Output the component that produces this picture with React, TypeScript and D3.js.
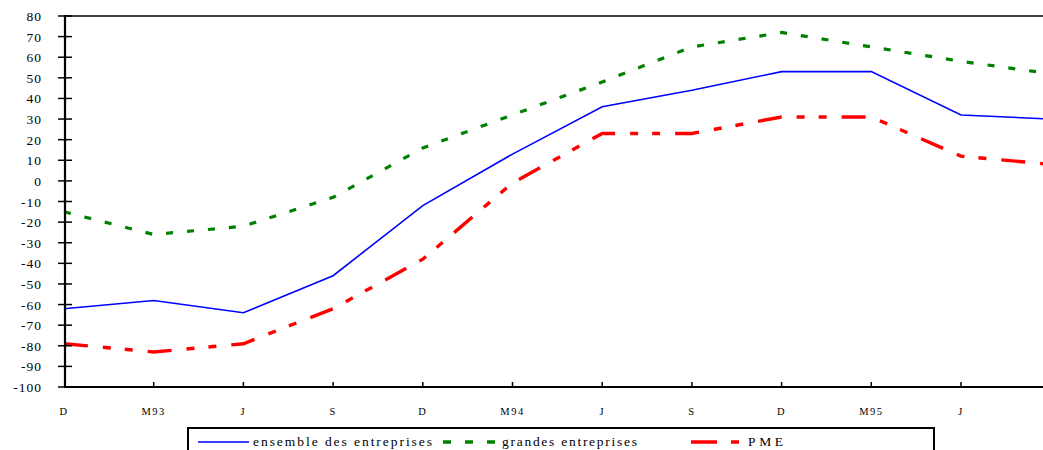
import React from "react";
import * as d3 from "d3";

const categories = ["D", "M93", "J", "S", "D", "M94", "J", "S", "D", "M95", "J", ""];
const ensemble = [-62, -58, -64, -46, -12, 13, 36, 44, 53, 53, 32, 30];
const grandes = [-15, -26, -22, -8, 16, 32, 48, 65, 72, 65, 58, 52];
const pme = [-79, -83, -79, -62, -38, -1, 23, 23, 31, 31, 12, 8];
const yTicks = d3.range(-100, 81, 10);
const legendLabels = ["ensemble des entreprises", "grandes entreprises", "PME"];

const W = 1043;
const H = 450;
const FONT = '"Liberation Serif", "Times New Roman", "DejaVu Serif", serif';

export default function App() {
  const x = d3.scaleLinear().domain([0, 11]).range([64, 64 + 11 * 89.7]);
  const y = d3.scaleLinear().domain([-100, 80]).range([387, 16]);
  const line = d3
    .line<number>()
    .x((_, i) => x(i))
    .y((d) => y(d));

  return (
    <div style={{ position: "absolute", left: 0, top: 0 }}>
      <svg width={W} height={H} style={{ display: "block", background: "#fff", fontFamily: FONT }}>
        {/* series */}
        <path d={line(ensemble) || ""} fill="none" stroke="#0000ff" strokeWidth={1.6} />
        <path
          d={line(grandes) || ""}
          fill="none"
          stroke="#008000"
          strokeWidth={3.2}
          strokeDasharray="7,14"
        />
        <path
          d={line(pme) || ""}
          fill="none"
          stroke="#ff0000"
          strokeWidth={3.4}
          strokeDasharray="24,15,8,14,8,15"
        />

        {/* frame / axes */}
        <line x1={64} x2={W} y1={16} y2={16} stroke="#000" strokeWidth={1.5} />
        <line x1={65} x2={65} y1={15} y2={388} stroke="#000" strokeWidth={2.2} />
        <line x1={64} x2={W} y1={387} y2={387} stroke="#000" strokeWidth={2.2} />

        {yTicks.map((t) => (
          <g key={t}>
            <line x1={58} x2={72} y1={y(t)} y2={y(t)} stroke="#000" strokeWidth={1.5} />
            <text
              x={42}
              y={y(t) + 5}
              textAnchor="end"
              style={{ fontFamily: FONT, fontSize: "13.5px", letterSpacing: "1px" }}
              fill="#000"
            >
              {t}
            </text>
          </g>
        ))}

        {categories.map((c, i) => (
          <g key={i}>
            {i > 0 && (
              <line x1={x(i)} x2={x(i)} y1={387} y2={382} stroke="#000" strokeWidth={1.5} />
            )}
            <text
              x={x(i)}
              y={415}
              textAnchor="middle"
              style={{ fontFamily: FONT, fontSize: "10.5px", letterSpacing: "1.5px" }}
              fill="#000"
            >
              {c}
            </text>
          </g>
        ))}

        {/* legend */}
        <rect x={188} y={428} width={746} height={40} fill="#fff" stroke="#000" strokeWidth={2} />
        <line x1={198} x2={249} y1={442} y2={442} stroke="#0000ff" strokeWidth={1.6} />
        <text
          x={253}
          y={446}
          style={{ fontFamily: FONT, fontSize: "13.5px" }}
          textLength={179}
          lengthAdjust="spacing"
        >
          {legendLabels[0]}
        </text>
        <line
          x1={443}
          x2={495}
          y1={442}
          y2={442}
          stroke="#008000"
          strokeWidth={3.3}
          strokeDasharray="8,14"
        />
        <text
          x={502}
          y={446}
          style={{ fontFamily: FONT, fontSize: "13.5px" }}
          textLength={135}
          lengthAdjust="spacing"
        >
          {legendLabels[1]}
        </text>
        <line
          x1={691}
          x2={740}
          y1={442}
          y2={442}
          stroke="#ff0000"
          strokeWidth={3.6}
          strokeDasharray="26,14,8,20"
        />
        <text
          x={748}
          y={446}
          style={{ fontFamily: FONT, fontSize: "13.5px" }}
          textLength={35}
          lengthAdjust="spacing"
        >
          {legendLabels[2]}
        </text>
      </svg>
    </div>
  );
}
